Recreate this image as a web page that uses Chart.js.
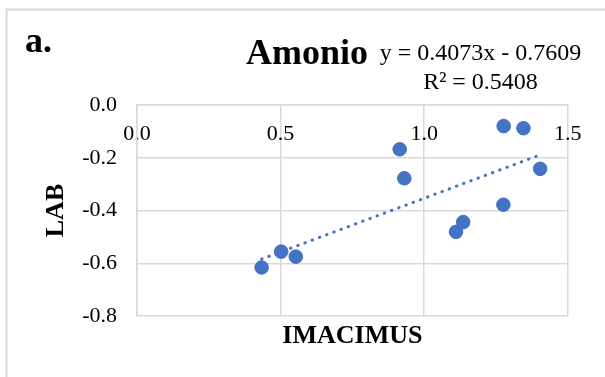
<!DOCTYPE html>
<html>
<head>
<meta charset="utf-8">
<script src="https://cdn.jsdelivr.net/npm/chart.js@4/dist/chart.umd.min.js"></script>
<style>
  html, body { margin: 0; padding: 0; background: #fff; }
  #wrap { position: relative; width: 605px; height: 377px; }
</style>
</head>
<body>
<div id="wrap"><canvas id="chart"></canvas></div>
<script>
// valores
const imacimus = [0.434, 0.502, 0.553, 0.915, 0.931, 1.111, 1.136, 1.276, 1.277, 1.346, 1.404];
const lab = [-0.616, -0.556, -0.575, -0.168, -0.278, -0.481, -0.444, -0.378, -0.080, -0.088, -0.242];

const xTicks = [0, 0.5, 1.0, 1.5];
const yTicks = [0, -0.2, -0.4, -0.6, -0.8];

// línea de tendencia (tal como aparece en la etiqueta)
const slope = 0.4073;
const intercept = -0.7609;
const rSquared = 0.5408;

const panelLabel = "a.";
const chartTitle = "Amonio";
const xTitle = "IMACIMUS";
const yTitle = "LAB";

const FONT = "'Liberation Serif', 'Times New Roman', serif";
const BLUE = "#4472C4";
const GRID = "#d9d9d9";

Chart.defaults.font.family = FONT;
Chart.defaults.color = "#000";

const points = imacimus.map((x, i) => ({ x, y: lab[i] }));
const xMin = Math.min(...imacimus);
const xMax = Math.max(...imacimus);
const trend = [xMin, xMax].map(x => ({ x, y: slope * x + intercept }));

// marco exterior del gráfico
const frame = {
  id: "frame",
  beforeDraw(chart) {
    const ctx = chart.ctx;
    ctx.save();
    ctx.strokeStyle = GRID;
    ctx.lineWidth = 2;
    ctx.beginPath();
    ctx.moveTo(6.5, chart.height);
    ctx.lineTo(6.5, 9.5);
    ctx.lineTo(chart.width, 9.5);
    ctx.stroke();
    ctx.restore();
  }
};

// "a.", título y ecuación de la tendencia
const headerText = {
  id: "headerText",
  afterDraw(chart) {
    const ctx = chart.ctx;
    ctx.save();
    ctx.fillStyle = "#000";
    ctx.textBaseline = "alphabetic";
    ctx.textAlign = "left";
    ctx.font = `bold 36px ${FONT}`;
    ctx.fillText(panelLabel, 25, 52);
    ctx.fillText(chartTitle, 246, 64);

    ctx.font = `24px ${FONT}`;
    ctx.textAlign = "center";
    const sign = intercept < 0 ? "-" : "+";
    ctx.fillText(`y = ${slope.toFixed(4)}x ${sign} ${Math.abs(intercept).toFixed(4)}`, 480.5, 59.5);
    ctx.fillText(`R² = ${rSquared.toFixed(4)}`, 480.5, 88.5);
    ctx.restore();
  }
};

new Chart(document.getElementById("chart"), {
  type: "scatter",
  data: {
    datasets: [
      {
        label: "Lineal",
        data: trend,
        showLine: true,
        borderColor: BLUE,
        borderWidth: 3,
        borderDash: [0.5, 7.2],
        borderCapStyle: "round",
        pointRadius: 0,
        fill: false,
      },
      {
        label: yTitle,
        data: points,
        backgroundColor: BLUE,
        borderColor: BLUE,
        pointRadius: 6.8,
        pointBorderWidth: 1,
      },
    ],
  },
  options: {
    responsive: true,
    maintainAspectRatio: false,
    animation: false,
    layout: { padding: { top: 105, left: 37, right: 37.3, bottom: 0 } },
    plugins: {
      legend: { display: false },
      tooltip: { enabled: false },
    },
    scales: {
      x: {
        type: "linear",
        position: { y: 0 },
        min: 0,
        max: 1.5,
        afterBuildTicks: s => { s.ticks = xTicks.map(value => ({ value })); },
        ticks: {
          font: { size: 22 },
          color: "#000",
          padding: 16,
          maxRotation: 0,
          callback: v => v.toFixed(1),
        },
        grid: { color: GRID, lineWidth: 1.5, drawTicks: false },
        border: { color: GRID, width: 1.5 },
      },
      xTitle: {
        type: "linear",
        axis: "x",
        position: "bottom",
        min: 0,
        max: 1.5,
        ticks: { display: false },
        grid: { display: false, drawTicks: false },
        border: { display: false },
        title: {
          display: true,
          text: xTitle,
          color: "#000",
          font: { size: 26, weight: "bold" },
          padding: { top: 4.4, bottom: 25.4 },
        },
      },
      y: {
        type: "linear",
        min: -0.8,
        max: 0,
        afterBuildTicks: s => { s.ticks = yTicks.map(value => ({ value })); },
        afterFit: s => { s.width = 100; },
        ticks: {
          font: { size: 22 },
          color: "#000",
          padding: 20,
          callback: v => v.toFixed(1),
        },
        grid: { color: GRID, lineWidth: 1.5, drawTicks: false },
        border: { color: GRID, width: 1.5 },
        title: {
          display: true,
          text: yTitle,
          color: "#000",
          font: { size: 26, weight: "bold" },
          padding: { top: 4, bottom: 9.6 },
        },
      },
    },
  },
  plugins: [frame, headerText],
});
</script>
</body>
</html>
